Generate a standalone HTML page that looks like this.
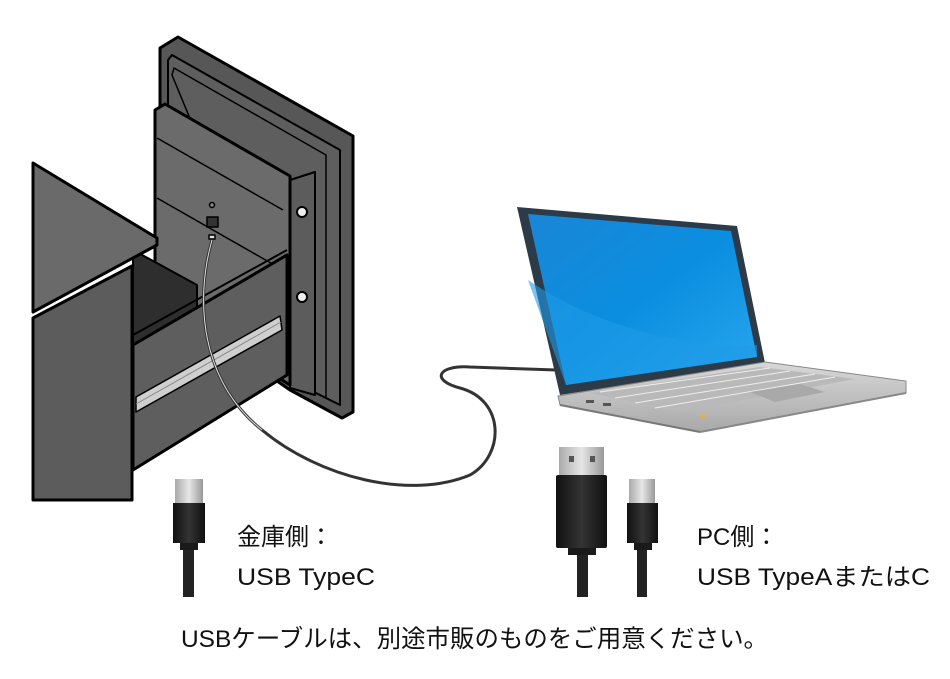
<!DOCTYPE html>
<html><head><meta charset="utf-8"><style>
html,body{margin:0;padding:0;background:#fff;}
svg{display:block}
text{font-family:"Liberation Sans","Noto Sans CJK JP",sans-serif;fill:#111;}
</style></head><body>
<svg width="950" height="679" viewBox="0 0 950 679" xmlns="http://www.w3.org/2000/svg">
<defs>
<linearGradient id="scr" x1="0" y1="0" x2="1" y2="1">
<stop offset="0" stop-color="#1a86d6"/><stop offset="0.5" stop-color="#0b8ee0"/><stop offset="1" stop-color="#2aa8ee"/>
</linearGradient>
<linearGradient id="blk" x1="0" y1="0" x2="1" y2="0">
<stop offset="0" stop-color="#111"/><stop offset="0.5" stop-color="#333"/><stop offset="1" stop-color="#111"/>
</linearGradient>
<linearGradient id="met" x1="0" y1="0" x2="1" y2="0">
<stop offset="0" stop-color="#aaa"/><stop offset="0.5" stop-color="#e6e6e6"/><stop offset="1" stop-color="#999"/>
</linearGradient>
<linearGradient id="base" x1="0" y1="0" x2="0" y2="1">
<stop offset="0" stop-color="#d8d8d8"/><stop offset="1" stop-color="#a8a8a8"/>
</linearGradient>
</defs>
<g stroke="#000" stroke-width="3" stroke-linejoin="round">
<polygon points="160,48 178,37 353,136 353,412 342,418 290,390 160,300" fill="#575757"/>
<polygon points="168,60 172,55 340,150 340,405 300,385 168,300" fill="#5e5e5e" stroke-width="2"/>
<polygon points="172,75 174,68 326,155 326,398 300,385" fill="none" stroke-width="1.5"/>
<polygon points="290,180 315,172 315,395 290,388" fill="#5c5c5c" stroke-width="2"/>
<polygon points="155,110 165,104 290,176 290,385 155,300" fill="#6b6b6b"/>
<line x1="157" y1="138" x2="283" y2="210" stroke-width="1.5"/>
<line x1="157" y1="198" x2="283" y2="270" stroke-width="1.5"/>
<circle cx="302" cy="212" r="5" fill="#eee" stroke-width="2"/>
<circle cx="302" cy="297" r="5" fill="#eee" stroke-width="2"/>
<circle cx="212" cy="205" r="2.5" fill="#888" stroke-width="1.5"/>
<rect x="207" y="217" width="11" height="10" fill="#333" stroke-width="1.5"/>
<rect x="209" y="235" width="6" height="4" fill="#ddd" stroke-width="1.5"/>
<polygon points="133,250 197,285 197,322 133,345" fill="#2e2e2e" stroke-width="2"/>
<polygon points="133,345 287,255 287,375 133,470" fill="#5e5e5e"/>
<line x1="133" y1="335" x2="287" y2="250" stroke-width="2"/>
<polygon points="136,397 280,316 282,330 136,412" fill="#cfcfcf" stroke-width="1.5"/>
<line x1="136" y1="404" x2="281" y2="322" stroke="#888" stroke-width="1"/>
<polygon points="33,318 132,266 132,500 33,500" fill="#5c5c5c"/>
<polygon points="33,163 157,238 157,245 33,312" fill="#6a6a6a"/>
</g>
<path d="M212,240 C195,300 200,380 262,430 C320,478 410,500 470,475 C505,455 505,400 460,388 C430,380 438,365 470,367 L556,370" fill="none" stroke="#333" stroke-width="3"/>
<path d="M212,240 C195,300 200,380 262,430" fill="none" stroke="#ddd" stroke-width="1"/>
<polygon points="517,207 737,226 765,363 560,395" fill="#2d3a48"/>
<polygon points="528,214 731,231 757,357 566,385" fill="url(#scr)"/>
<path d="M528,280 C600,330 700,350 757,345 L757,357 L566,385Z" fill="#1e9be8" opacity="0.6"/>
<polygon points="558,396 765,362 906,381 906,393 700,432 560,405" fill="url(#base)" stroke="#888" stroke-width="1"/>
<polygon points="590,393 760,367 855,379 680,412" fill="#b9b9b9"/>
<g stroke="#eee" stroke-width="1">
<line x1="600" y1="392" x2="770" y2="368"/><line x1="615" y1="398" x2="790" y2="371"/><line x1="635" y1="403" x2="815" y2="374"/><line x1="655" y1="408" x2="835" y2="377"/>
</g>
<polygon points="750,392 800,384 825,392 775,402" fill="#a9a9a9"/>
<line x1="560" y1="405" x2="700" y2="432" stroke="#777" stroke-width="2"/>
<line x1="700" y1="432" x2="906" y2="393" stroke="#888" stroke-width="2"/>
<circle cx="703" cy="416" r="3" fill="#d9b060"/>
<rect x="586" y="400" width="8" height="3" fill="#555"/><rect x="603" y="403" width="8" height="3" fill="#555"/>
<g>
<rect x="175" y="479" width="28" height="24" fill="url(#met)"/>
<rect x="173" y="503" width="32" height="40" fill="url(#blk)"/>
<rect x="180" y="543" width="18" height="7" fill="#1a1a1a"/>
<rect x="183" y="550" width="11" height="47" fill="#222"/>
<rect x="559" y="447" width="45" height="29" fill="url(#met)"/>
<rect x="569" y="456" width="5" height="6" fill="#555"/><rect x="590" y="456" width="5" height="6" fill="#555"/>
<rect x="556" y="475" width="51" height="73" rx="2" fill="url(#blk)"/>
<rect x="568" y="548" width="28" height="7" fill="#1a1a1a"/>
<rect x="577" y="555" width="11" height="42" fill="#222"/>
<rect x="629" y="479" width="26" height="24" fill="url(#met)"/>
<rect x="627" y="503" width="31" height="40" fill="url(#blk)"/>
<rect x="634" y="543" width="18" height="7" fill="#1a1a1a"/>
<rect x="637" y="550" width="10" height="47" fill="#222"/>
</g>
<text x="237" y="545" font-size="24">金庫側：</text>
<text x="237" y="585" font-size="24" textLength="138" lengthAdjust="spacingAndGlyphs">USB TypeC</text>
<text x="697" y="545" font-size="24">PC側：</text>
<text x="697" y="585" font-size="24" textLength="233" lengthAdjust="spacingAndGlyphs">USB TypeAまたはC</text>
<text x="181" y="647" font-size="24.5" textLength="587" lengthAdjust="spacingAndGlyphs">USBケーブルは、別途市販のものをご用意ください。</text>
</svg>
</body></html>
